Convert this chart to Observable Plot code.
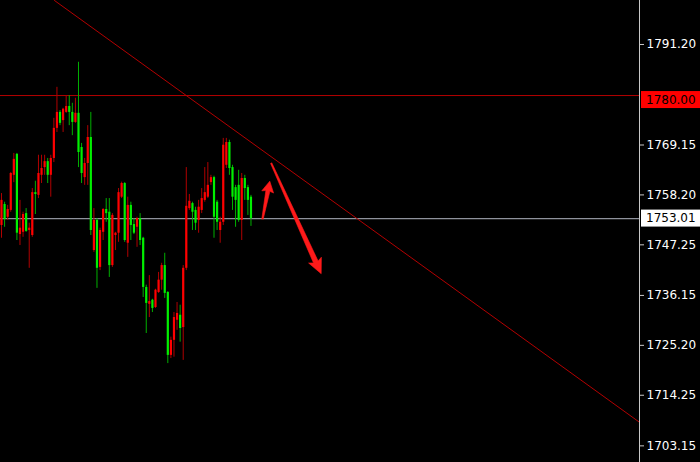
<!DOCTYPE html>
<html><head><meta charset="utf-8">
<script src="https://cdn.jsdelivr.net/npm/d3@7"></script>
<script src="https://cdn.jsdelivr.net/npm/@observablehq/plot@0.6"></script>
<style>html,body{margin:0;padding:0;background:#000;}</style>
</head><body><div id="chart"></div>
<script>
// Candle data (bar index = position)
const opens  = [1751.5,1756.1,1753.3,1754.8,1762.5,1767.1,1749.5,1750.0,1754.1,1750.4,1749.3,1758.7,1758.1,1762.5,1764.2,1765.5,1762.5,1766.2,1772.8,1776.3,1774.5,1776.3,1777.6,1776.3,1774.1,1776.1,1768.6,1762.0,1765.1,1770.8,1746.0,1752.6,1742.3,1750.0,1755.0,1754.4,1742.7,1749.3,1749.8,1757.7,1760.7,1747.6,1755.9,1751.7,1751.1,1753.0,1748.7,1737.9,1734.2,1735.1,1733.5,1736.8,1739.5,1742.7,1736.8,1723.0,1726.3,1730.7,1731.8,1729.1,1742.1,1755.2,1756.3,1754.8,1752.6,1754.8,1757.0,1757.7,1760.9,1762.0,1756.6,1750.4,1752.2,1764.7,1769.7,1764.2,1759.8,1760.3,1752.6,1761.8,1759.8,1757.7];
const highs  = [1758.5,1756.6,1755.9,1763.1,1767.3,1767.3,1757.0,1754.4,1755.2,1752.0,1759.6,1761.2,1766.9,1766.9,1766.9,1766.2,1766.9,1775.0,1781.8,1776.7,1777.2,1780.0,1780.0,1778.3,1779.4,1787.3,1769.5,1766.2,1773.4,1776.3,1755.2,1753.0,1750.9,1755.2,1757.4,1757.4,1754.1,1750.0,1759.6,1761.0,1760.9,1757.7,1756.6,1753.0,1753.3,1754.1,1748.9,1738.4,1740.5,1735.3,1737.5,1741.2,1743.2,1745.4,1737.0,1727.0,1732.4,1734.6,1734.0,1742.7,1764.2,1758.3,1756.6,1755.5,1757.0,1759.6,1764.2,1765.3,1762.5,1762.3,1757.0,1753.3,1770.6,1770.6,1770.2,1764.7,1760.3,1763.6,1762.9,1762.5,1760.3,1758.1];
const lows   = [1748.7,1751.1,1752.6,1754.4,1760.9,1748.2,1747.1,1748.9,1750.0,1742.1,1748.9,1753.9,1757.4,1760.7,1762.5,1760.7,1757.7,1765.3,1771.9,1773.4,1771.9,1776.1,1773.4,1771.2,1773.9,1764.2,1760.7,1760.3,1760.3,1749.3,1745.6,1737.7,1741.6,1748.2,1752.2,1740.1,1742.3,1746.0,1747.8,1757.4,1747.8,1744.5,1748.2,1749.5,1746.7,1747.1,1735.7,1727.8,1731.3,1732.4,1733.3,1736.6,1737.3,1735.5,1721.2,1722.3,1722.6,1728.5,1725.9,1721.9,1741.6,1754.8,1750.4,1750.4,1749.8,1754.1,1756.6,1757.4,1760.3,1748.7,1750.4,1747.6,1751.5,1764.0,1762.5,1754.8,1751.1,1752.2,1748.2,1757.0,1753.7,1751.3];
const closes = [1757.0,1752.8,1755.0,1762.9,1766.0,1749.8,1750.9,1753.9,1750.2,1750.9,1758.7,1758.3,1762.9,1764.0,1765.5,1762.5,1766.2,1772.8,1776.3,1773.9,1777.0,1777.6,1776.3,1774.1,1776.1,1767.5,1762.9,1765.1,1770.8,1750.4,1752.6,1742.1,1750.4,1755.0,1754.1,1742.7,1753.7,1749.8,1758.7,1760.7,1748.2,1755.9,1751.5,1749.8,1753.0,1748.2,1737.9,1734.4,1734.8,1733.3,1737.3,1739.5,1742.7,1736.6,1723.0,1726.3,1731.3,1732.2,1728.9,1742.1,1755.7,1756.8,1754.4,1752.0,1755.5,1757.4,1758.7,1760.3,1762.0,1753.3,1752.2,1752.2,1769.1,1769.7,1764.0,1757.7,1757.0,1752.6,1761.8,1759.6,1757.0,1753.01];

// Axis tick labels and price levels
const tickValues = [1791.20, 1769.15, 1758.20, 1747.25, 1736.15, 1725.20, 1714.25, 1703.15];
const resistance = 1780.00;
const lastPrice = 1753.01;

// Trend line (bar index, price)
const trendIdx = [17.2, 207.2];
const trendPrice = [1800.85, 1708.3];

// Annotation arrows (bar index, price polygon)
const bigArrowIdx   = [87.76, 102.79, 103.86, 103.80, 99.71, 101.30, 87.37];
const bigArrowPrice = [1765.24, 1743.72, 1744.53, 1740.92, 1743.26, 1743.28, 1765.10];
const smallArrowIdx   = [84.97, 87.14, 88.34, 87.11, 84.51, 85.84, 84.51];
const smallArrowPrice = [1752.87, 1758.99, 1758.61, 1761.22, 1759.10, 1759.16, 1752.91];

const candles = opens.map((o, i) => ({i, o, h: highs[i], l: lows[i], c: closes[i], up: closes[i] >= o}));
const trend = trendIdx.map((x, k) => ({x, y: trendPrice[k]}));
const bigArrow = bigArrowIdx.map((x, k) => ({x, y: bigArrowPrice[k]}));
const smallArrow = smallArrowIdx.map((x, k) => ({x, y: smallArrowPrice[k]}));

const xMax = 207.15;
const plot = Plot.plot({
  width: 700, height: 462,
  marginLeft: 0, marginRight: 61, marginTop: 0, marginBottom: 0,
  style: {background: "#000", color: "#fff", fontFamily: "DejaVu Sans", fontSize: "12px"},
  x: {domain: [-0.325, xMax], axis: null},
  y: {domain: [1699.5, 1800.85], axis: null},
  marks: [
    Plot.ruleY([resistance], {stroke: "#b30000", strokeWidth: 1}),
    Plot.ruleY([lastPrice], {stroke: "#8f929c", strokeWidth: 1.3}),
    Plot.line(trend, {x: "x", y: "y", stroke: "#b30000", strokeWidth: 1, clip: true}),
    Plot.ruleX(candles, {x: "i", y1: "l", y2: "h", stroke: d => d.up ? "#b00000" : "#00b000", strokeWidth: 1}),
    Plot.ruleX(candles, {x: "i", y1: "o", y2: "c", stroke: d => d.up ? "#ff0000" : "#00f000", strokeWidth: 2.2}),
    Plot.line(bigArrow, {x: "x", y: "y", fill: "#ff1a1a", stroke: "#ff1a1a", strokeWidth: 0.6}),
    Plot.line(smallArrow, {x: "x", y: "y", fill: "#ff1a1a", stroke: "#ff1a1a", strokeWidth: 0.6}),
    Plot.ruleX([xMax], {stroke: "#c8c8c8", strokeWidth: 1}),
    Plot.axisY(tickValues, {anchor: "right", tickSize: 4, tickPadding: 3, stroke: "#c8c8c8", fill: "#fff",
      tickFormat: d => d.toFixed(2), fontSize: 12})
  ]
});

const ys = plot.scale("y");
const svg = d3.select(plot);
function priceLabel(v, bg, fg, offset) {
  const cy = ys.apply(v) + offset;
  svg.append("rect").attr("x", 641).attr("y", cy - 8.5).attr("width", 59).attr("height", 17).attr("fill", bg);
  svg.append("text").attr("x", 646).attr("y", cy).attr("dy", "0.35em").attr("fill", fg)
    .attr("text-anchor", "start")
    .attr("font-family", "DejaVu Sans").attr("font-size", 12).text(v.toFixed(2));
}
priceLabel(resistance, "#ff0000", "#000", 4.5);
priceLabel(lastPrice, "#ffffff", "#000", 0);

document.getElementById("chart").appendChild(plot);
</script>
</body></html>
